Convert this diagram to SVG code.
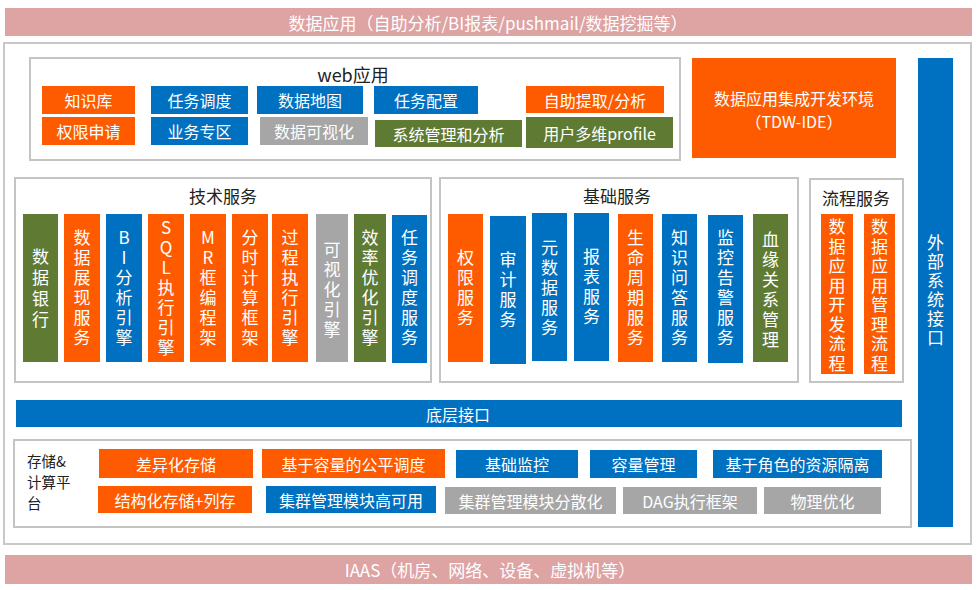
<svg xmlns="http://www.w3.org/2000/svg" width="980" height="590" viewBox="0 0 980 590">
<style>
.o{fill:#fe5b00}.b{fill:#0070c0}.g{fill:#5f7b33}.gr{fill:#a6a6a6}.p{fill:#dea3a3}
.box{fill:#fff;stroke:#c4c4c4;stroke-width:2}
.frame{fill:#fff;stroke:#c8c8c8;stroke-width:2}
text{font-family:"Noto Sans CJK SC","Noto Sans",sans-serif;dominant-baseline:central}
.t{fill:#fff;font-size:16px;text-anchor:middle}
.v{fill:#fff;font-size:17px;text-anchor:middle;writing-mode:vertical-rl;text-orientation:upright;letter-spacing:3px}
.h{fill:#222;font-size:17px;text-anchor:middle}
.band{fill:#fff;font-size:17px;text-anchor:middle}
.lab{fill:#222;font-size:14.5px}
</style>
<rect x="0" y="0" width="980" height="590" fill="#fff"/>
<g id="top-band"><rect class="p" x="5" y="8" width="967" height="28"/><text class="band" x="488" y="22">数据应用（自助分析/BI报表/pushmail/数据挖掘等）</text></g>
<rect id="outer" class="frame" x="4" y="43" width="967" height="501"/>

<g id="web">
<rect class="box" x="30" y="58" width="650" height="102"/>
<text class="h" x="353" y="74" style="font-size:18px">web应用</text>
<g id="w1"><rect class="o" x="42" y="86" width="93" height="28"/><text class="t" x="88.5" y="100">知识库</text></g>
<g id="w2"><rect class="o" x="42" y="117" width="93" height="28"/><text class="t" x="88.5" y="131">权限申请</text></g>
<g id="w3"><rect class="b" x="151" y="86" width="97" height="28"/><text class="t" x="199.5" y="100">任务调度</text></g>
<g id="w4"><rect class="b" x="151" y="117" width="97" height="28"/><text class="t" x="199.5" y="131">业务专区</text></g>
<g id="w5"><rect class="b" x="257" y="86" width="106" height="28"/><text class="t" x="310" y="100">数据地图</text></g>
<g id="w6"><rect class="gr" x="260" y="117" width="108" height="28"/><text class="t" x="314" y="131">数据可视化</text></g>
<g id="w7"><rect class="b" x="374" y="86" width="104" height="28"/><text class="t" x="426" y="100">任务配置</text></g>
<g id="w8"><rect class="g" x="375" y="120" width="147" height="27"/><text class="t" x="448.5" y="133.5">系统管理和分析</text></g>
<g id="w9"><rect class="o" x="526" y="86" width="138" height="27"/><text class="t" x="595" y="99.5">自助提取/分析</text></g>
<g id="w10"><rect class="g" x="526" y="117" width="147" height="31"/><text class="t" x="599.5" y="132.5">用户多维profile</text></g>
</g>

<g id="tdw-ide"><rect class="o" x="692" y="58" width="204" height="100"/><text class="t" x="794" y="97.5">数据应用集成开发环境</text><text class="t" x="794" y="121">（TDW-IDE）</text></g>

<g id="external"><rect class="b" x="918" y="58" width="35" height="469"/>
<text class="v" x="935.5" y="291.5" style="letter-spacing:2px">外部系统接口</text></g>

<g id="tech">
<rect class="box" x="15" y="178" width="416" height="204"/>
<text class="h" x="223" y="195">技术服务</text>
<g id="t1"><rect class="g" x="23" y="214" width="35" height="148"/><text class="v" x="40.5" y="290" style="letter-spacing:4px">数据银行</text></g>
<g id="t2"><rect class="o" x="64" y="214" width="36" height="148"/><text class="v" x="82" y="289.5">数据展现服务</text></g>
<g id="t3"><rect class="b" x="106" y="214" width="36" height="148"/><text class="v" x="124" y="289.5">BI分析引擎</text></g>
<g id="t4"><rect class="o" x="148" y="214" width="36" height="148"/><text class="v" x="166" y="289.5">SQL执行引擎</text></g>
<g id="t5"><rect class="o" x="190" y="214" width="36" height="148"/><text class="v" x="208" y="289.5">MR框编程架</text></g>
<g id="t6"><rect class="o" x="232" y="214" width="36" height="148"/><text class="v" x="250" y="289.5">分时计算框架</text></g>
<g id="t7"><rect class="o" x="272" y="214" width="36" height="148"/><text class="v" x="290" y="289.5">过程执行引擎</text></g>
<g id="t8"><rect class="gr" x="316" y="214" width="32" height="148"/><text class="v" x="332" y="291.5">可视化引擎</text></g>
<g id="t9"><rect class="g" x="354" y="214" width="32" height="148"/><text class="v" x="370" y="289.5">效率优化引擎</text></g>
<g id="t10"><rect class="b" x="392" y="215" width="35" height="148"/><text class="v" x="409.5" y="289.5">任务调度服务</text></g>
</g>

<g id="base">
<rect class="box" x="440" y="178" width="358" height="204"/>
<text class="h" x="617" y="195">基础服务</text>
<g id="b1"><rect class="o" x="448" y="214" width="35" height="148"/><text class="v" x="465.5" y="289.5">权限服务</text></g>
<g id="b2"><rect class="b" x="490" y="216" width="36" height="148"/><text class="v" x="508" y="291.5">审计服务</text></g>
<g id="b3"><rect class="b" x="532" y="213" width="35" height="148"/><text class="v" x="549.5" y="289.5">元数据服务</text></g>
<g id="b4"><rect class="b" x="574" y="213" width="35" height="148"/><text class="v" x="591.5" y="288.5">报表服务</text></g>
<g id="b5"><rect class="o" x="618" y="214" width="35" height="148"/><text class="v" x="635.5" y="289.5">生命周期服务</text></g>
<g id="b6"><rect class="b" x="662" y="214" width="35" height="148"/><text class="v" x="679.5" y="289.5">知识问答服务</text></g>
<g id="b7"><rect class="b" x="708" y="215" width="35" height="148"/><text class="v" x="725.5" y="289.5">监控告警服务</text></g>
<g id="b8"><rect class="g" x="753" y="214" width="35" height="148"/><text class="v" x="770.5" y="291.5">血缘关系管理</text></g>
</g>

<g id="process">
<rect class="box" x="810" y="179" width="93" height="203"/>
<text class="h" x="856" y="197">流程服务</text>
<g id="p1"><rect class="o" x="821" y="214" width="32" height="160"/><text class="v" x="837" y="296.5" style="letter-spacing:2.5px">数据应用开发流程</text></g>
<g id="p2"><rect class="o" x="864" y="214" width="31" height="160"/><text class="v" x="879.5" y="296.5" style="letter-spacing:2.5px">数据应用管理流程</text></g>
</g>

<g id="bottom-interface"><rect class="b" x="16" y="400" width="886" height="27"/><text class="t" x="458" y="414">底层接口</text></g>

<g id="storage">
<rect class="box" x="14" y="440" width="897" height="87"/>
<text class="lab" x="27" y="460">存储&amp;</text>
<text class="lab" x="27" y="481">计算平</text>
<text class="lab" x="27" y="502">台</text>
<g id="s1"><rect class="o" x="99" y="449" width="154" height="29"/><text class="t" x="176" y="463.5">差异化存储</text></g>
<g id="s2"><rect class="o" x="262" y="449" width="183" height="29"/><text class="t" x="353.5" y="463.5">基于容量的公平调度</text></g>
<g id="s3"><rect class="b" x="456" y="450" width="122" height="28"/><text class="t" x="517" y="464">基础监控</text></g>
<g id="s4"><rect class="b" x="590" y="450" width="107" height="28"/><text class="t" x="643.5" y="464">容量管理</text></g>
<g id="s5"><rect class="b" x="713" y="450" width="169" height="28"/><text class="t" x="797.5" y="464">基于角色的资源隔离</text></g>
<g id="s6"><rect class="o" x="98" y="486" width="154" height="27"/><text class="t" x="175" y="499.5">结构化存储+列存</text></g>
<g id="s7"><rect class="b" x="266" y="486" width="170" height="27"/><text class="t" x="351" y="499.5">集群管理模块高可用</text></g>
<g id="s8"><rect class="gr" x="445" y="487" width="171" height="27"/><text class="t" x="530.5" y="500.5">集群管理模块分散化</text></g>
<g id="s9"><rect class="gr" x="623" y="487" width="134" height="27"/><text class="t" x="690" y="500.5">DAG执行框架</text></g>
<g id="s10"><rect class="gr" x="764" y="487" width="117" height="27"/><text class="t" x="822.5" y="500.5">物理优化</text></g>
</g>

<g id="iaas"><rect class="p" x="5" y="555" width="967" height="29"/><text class="band" x="490" y="569.5">IAAS（机房、网络、设备、虚拟机等）</text></g>
<g id="connectors"></g>
</svg>
